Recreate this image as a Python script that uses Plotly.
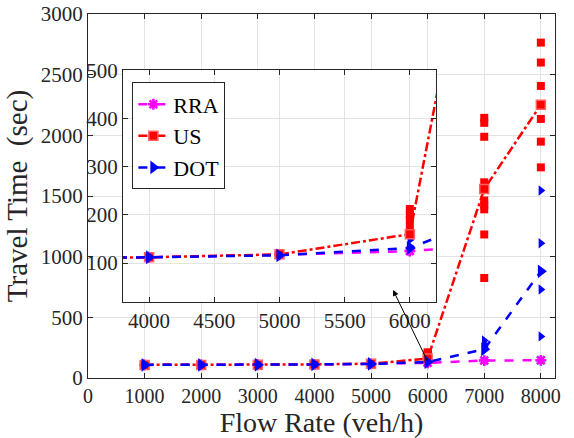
import plotly.graph_objects as go

flow = [1000, 2000, 3000, 4000, 5000, 6000, 7000, 8000]
rra_mean = [108, 108, 109, 112, 117, 125, 144, 146]
us_mean = [108, 108, 109, 112, 118, 160, 1558, 2252]
dot_mean = [108, 108, 109, 112, 116, 131, 237, 879]

us_samp_x = [6000]*5 + [7000]*9 + [8000]*7
us_samp_y = [160, 175, 190, 200, 212,
             2144, 2103, 1988, 1613, 1463, 1423, 1390, 1183, 824,
             2764, 2600, 2407, 2244, 2135, 1948, 1736]
dot_samp_x = [6000]*4 + [7000]*4 + [8000]*4
dot_samp_y = [125, 135, 148, 160,
              230, 255, 280, 310,
              1545, 1110, 729, 343]
rra_samp_x = [6000, 7000, 8000]
rra_samp_y = [125, 144, 146]

FONT = "Times New Roman, Liberation Serif, serif"
MAG, RED, BLUE = "#ff00ff", "#ff0000", "#0000ff"
AX = "#262626"
GRID = "#e3e3e3"

fig = go.Figure()

def add_series(xa, ya, show):
    fig.add_trace(go.Scatter(x=us_samp_x, y=us_samp_y, mode="markers", xaxis=xa, yaxis=ya,
                             marker=dict(symbol="square", size=8, color=RED), showlegend=False))
    fig.add_trace(go.Scatter(x=dot_samp_x, y=dot_samp_y, mode="markers", xaxis=xa, yaxis=ya,
                             marker=dict(symbol="triangle-right", size=9, color=BLUE), showlegend=False))
    fig.add_trace(go.Scatter(x=rra_samp_x, y=rra_samp_y, mode="markers", xaxis=xa, yaxis=ya,
                             marker=dict(symbol="asterisk-open", size=9, line=dict(color=MAG, width=2.5)),
                             showlegend=False))
    fig.add_trace(go.Scatter(x=flow, y=rra_mean, name="RRA", mode="lines+markers", xaxis=xa, yaxis=ya,
                             line=dict(color=MAG, width=2.5, dash="dash"),
                             marker=dict(symbol="asterisk-open", size=9, line=dict(color=MAG, width=2.5)),
                             showlegend=show, legendrank=1))
    fig.add_trace(go.Scatter(x=flow, y=us_mean, name="US", mode="lines+markers", xaxis=xa, yaxis=ya,
                             line=dict(color=RED, width=2.5, dash="dashdot"),
                             marker=dict(symbol="square", size=9, color=RED,
                                         line=dict(color="#ff6060", width=1.5)),
                             showlegend=show, legendrank=2))
    fig.add_trace(go.Scatter(x=flow, y=dot_mean, name="DOT", mode="lines+markers", xaxis=xa, yaxis=ya,
                             line=dict(color=BLUE, width=2.5, dash="dash"),
                             marker=dict(symbol="triangle-right", size=12, color=BLUE),
                             showlegend=show, legendrank=3))

add_series("x", "y", False)
add_series("x2", "y2", True)

axis_common = dict(showline=True, linecolor=AX, linewidth=1, mirror="ticks", ticks="inside",
                   ticklen=5, tickcolor=AX, showgrid=True, gridcolor=GRID, gridwidth=1,
                   zeroline=False, automargin=False, tickfont=dict(family=FONT, size=21, color=AX))

fig.update_layout(
    width=574, height=438,
    margin=dict(l=88, r=19, t=14, b=60),
    paper_bgcolor="white", plot_bgcolor="white",
    font=dict(family=FONT, color=AX),
    xaxis=dict(range=[0, 8250], tickvals=[0, 1000, 2000, 3000, 4000, 5000, 6000, 7000, 8000],
               domain=[0, 1],
               title=dict(text="Flow Rate (veh/h)", font=dict(family=FONT, size=28, color=AX), standoff=4),
               **{**axis_common, "tickfont": dict(family=FONT, size=20, color=AX)}),
    yaxis=dict(range=[0, 3000], tickvals=[0, 500, 1000, 1500, 2000, 2500, 3000],
               domain=[0, 1],
               title=dict(text="Travel Time\u00a0\u00a0(sec)", font=dict(family=FONT, size=29, color=AX), standoff=4),
               **axis_common),
    xaxis2=dict(range=[3800, 6200], tickvals=[4000, 4500, 5000, 5500, 6000],
                domain=[0.075, 0.745], anchor="y2", **axis_common),
    yaxis2=dict(range=[20, 500], tickvals=[100, 200, 300, 400, 500],
                domain=[0.21, 0.845], anchor="x2", **axis_common),
    legend=dict(x=0.095, y=0.812, xanchor="left", yanchor="top",
                bgcolor="white", bordercolor=AX, borderwidth=1,
                font=dict(family=FONT, size=22, color="black"),
                tracegroupgap=0, itemsizing="trace"),
    showlegend=True,
)

fig.add_annotation(x=5389, y=726, xref="x", yref="y", ax=6007, ay=130, axref="x", ayref="y",
                   text="", showarrow=True, arrowhead=2, arrowsize=1.2, arrowwidth=1, arrowcolor="black")

fig.write_html("out.html")
